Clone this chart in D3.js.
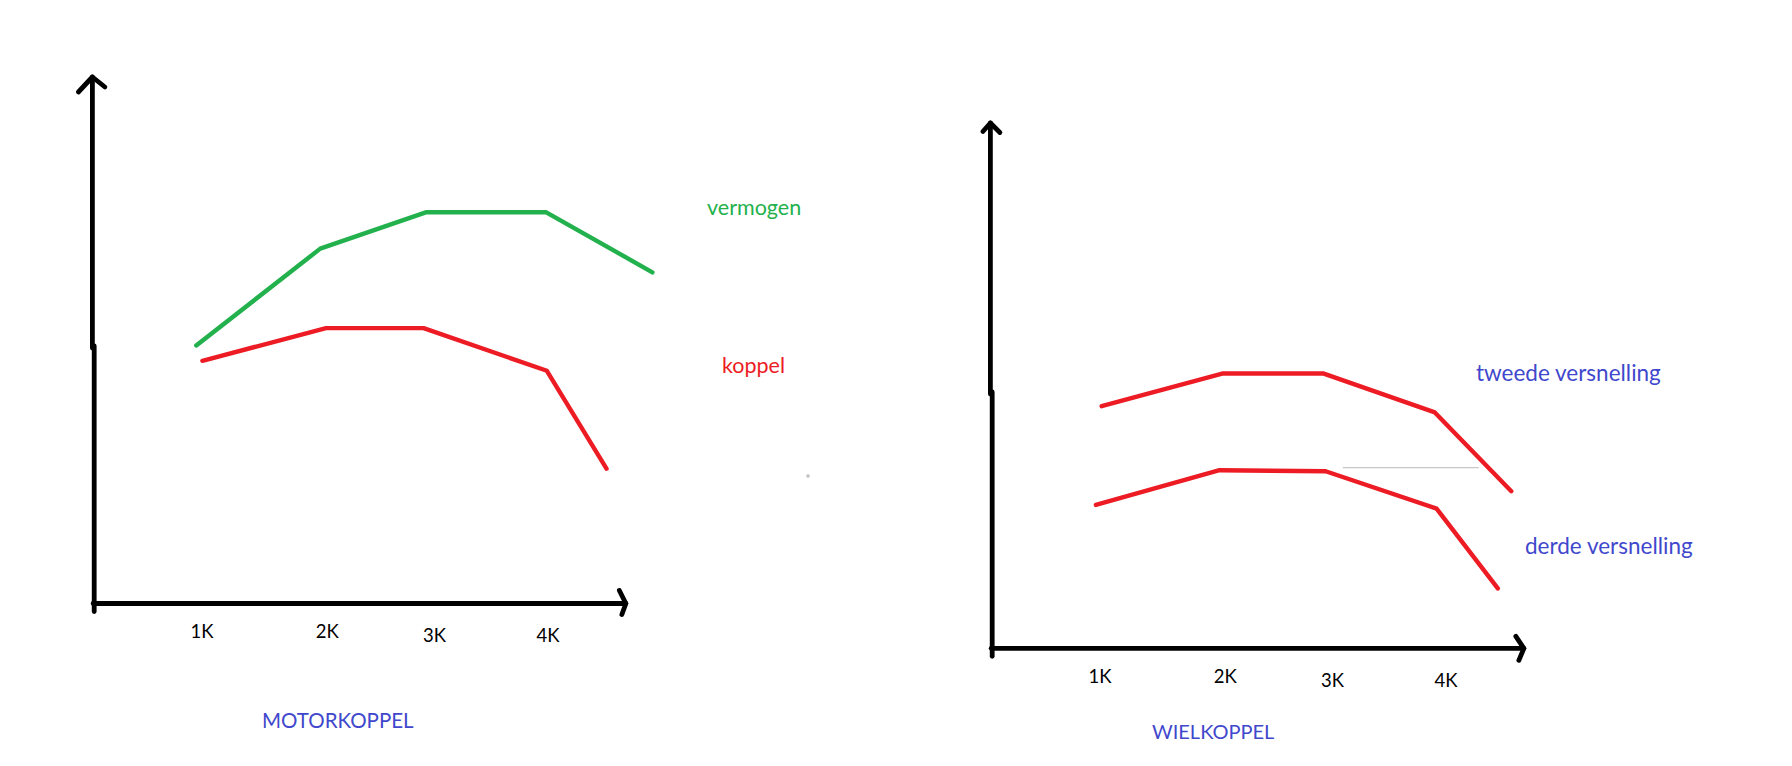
<!DOCTYPE html>
<html>
<head>
<meta charset="utf-8">
<script src="https://cdn.jsdelivr.net/npm/d3@7"></script>
<style>
  html, body { margin: 0; padding: 0; background: #fff; }
  svg { display: block; }
  text { font-family: Lato, "Open Sans", sans-serif; }
</style>
</head>
<body>
<svg id="chart" width="1792" height="766"></svg>
<script>
// ---------------- DATA ----------------
const rpmTicks   = [1000, 2085, 3015, 4000];
const tickLabels = ["1K", "2K", "3K", "4K"];

// Left chart: MOTORKOPPEL
const motorVermogenRpm = [950, 2025, 2940, 3985, 4905];
const motorVermogen    = [49.0, 67.4, 74.3, 74.3, 62.9];
const motorKoppelRpm   = [1003, 2075, 2921, 3990, 4507];
const motorKoppel      = [46.1, 52.3, 52.3, 44.2, 25.6];

// Right chart: WIELKOPPEL
const wielTweedeRpm = [1014, 2059, 2940, 3903, 4566];
const wielTweede    = [46.1, 52.3, 52.3, 44.9, 29.9];
const wielDerdeRpm  = [964, 2036, 2956, 3918, 4449];
const wielDerde     = [27.3, 33.9, 33.7, 26.6, 11.4];
const guideRpm      = [3105, 4283];
const guideValue    = 34.4;

const axisRpmStart = 65, axisRpmEnd = 4675;
const valueTop = 100;

// ---------------- LAYOUT ----------------
const svg = d3.select("#chart");
svg.append("rect").attr("width", 1792).attr("height", 766).attr("fill", "#fff");

const COLORS = { green: "#22b14c", red: "#ed1c24", blue: "#3f48cc", black: "#000" };

const panels = [
  {
    xRange: [86.7, 663.35], yRange: [603.5, 77],
    yAxisBelow: 8, upperShift: -1.8, splitY: 346,
    yArrow: [[-14, 15], [12.5, 10]], xArrow: [[-6.5, -13], [-4, 11]],
    tickBase: 638, tickDy: [0, 0, 4, 4],
    title: { text: "MOTORKOPPEL", x: 262, y: 727.5, size: 20.5 },
    series: [
      { rpm: motorVermogenRpm, val: motorVermogen, color: COLORS.green },
      { rpm: motorKoppelRpm, val: motorKoppel, color: COLORS.red }
    ],
    labels: [
      { text: "vermogen", x: 707, y: 215, color: COLORS.green, size: 21.5 },
      { text: "koppel", x: 722, y: 373, color: COLORS.red, size: 21.5 }
    ]
  },
  {
    xRange: [984.7, 1561.35], yRange: [648.3, 123],
    yAxisBelow: 8, upperShift: -1.8, splitY: 392,
    yArrow: [[-7.5, 8.5], [9.5, 9.5]], xArrow: [[-8, -12], [-5, 12]],
    tickBase: 683, tickDy: [0, 0, 4, 4],
    title: { text: "WIELKOPPEL", x: 1152, y: 739, size: 20 },
    series: [
      { rpm: wielTweedeRpm, val: wielTweede, color: COLORS.red },
      { rpm: wielDerdeRpm, val: wielDerde, color: COLORS.red }
    ],
    labels: [
      { text: "tweede versnelling", x: 1476, y: 380.5, color: COLORS.blue, size: 22.5 },
      { text: "derde versnelling", x: 1525, y: 554, color: COLORS.blue, size: 22.5 }
    ],
    guide: true
  }
];

panels.forEach(p => {
  const x = d3.scaleLinear().domain([0, 5000]).range(p.xRange);
  const y = d3.scaleLinear().domain([0, valueTop]).range(p.yRange);
  const g = svg.append("g");

  // faint guide line (right chart)
  if (p.guide) {
    g.append("line")
      .attr("x1", x(guideRpm[0])).attr("x2", x(guideRpm[1]))
      .attr("y1", y(guideValue)).attr("y2", y(guideValue))
      .attr("stroke", "#c8c8c8").attr("stroke-width", 1.2);
  }

  // axes
  const ax = x(axisRpmStart), ay = y(0);
  const axStyle = sel => sel.attr("fill", "none").attr("stroke", COLORS.black)
    .attr("stroke-width", 4.8).attr("stroke-linecap", "round").attr("stroke-linejoin", "round");
  // y axis (two hand-drawn strokes)
  g.append("path").call(axStyle)
    .attr("d", `M${ax},${ay + p.yAxisBelow} L${ax},${p.splitY}`);
  const tipX = ax + p.upperShift, tipY = y(valueTop);
  g.append("path").call(axStyle)
    .attr("d", `M${tipX},${p.splitY + 2} L${tipX},${tipY}`);
  g.append("path").call(axStyle)
    .attr("d", `M${tipX + p.yArrow[0][0]},${tipY + p.yArrow[0][1]} L${tipX},${tipY} L${tipX + p.yArrow[1][0]},${tipY + p.yArrow[1][1]}`);
  // x axis
  const xe = x(axisRpmEnd);
  g.append("path").call(axStyle)
    .attr("d", `M${ax - 1},${ay} L${xe},${ay}`);
  g.append("path").call(axStyle)
    .attr("d", `M${xe + p.xArrow[0][0]},${ay + p.xArrow[0][1]} L${xe},${ay} L${xe + p.xArrow[1][0]},${ay + p.xArrow[1][1]}`);

  // tick labels
  g.selectAll("text.tick").data(rpmTicks).enter().append("text")
    .attr("class", "tick")
    .attr("x", d => x(d))
    .attr("y", (d, i) => p.tickBase + p.tickDy[i])
    .attr("text-anchor", "middle")
    .attr("font-size", 18.5)
    .attr("fill", "#000")
    .text((d, i) => tickLabels[i]);

  // series lines
  const line = d3.line().x(d => x(d[0])).y(d => y(d[1]));
  p.series.forEach(s => {
    g.append("path")
      .datum(d3.zip(s.rpm, s.val))
      .attr("d", line)
      .attr("fill", "none")
      .attr("stroke", s.color)
      .attr("stroke-width", 4.4)
      .attr("stroke-linecap", "round")
      .attr("stroke-linejoin", "round");
  });

  // labels
  p.labels.forEach(l => {
    g.append("text").attr("x", l.x).attr("y", l.y)
      .attr("font-size", l.size).attr("fill", l.color).text(l.text);
  });
  g.append("text").attr("x", p.title.x).attr("y", p.title.y)
    .attr("font-size", p.title.size).attr("fill", COLORS.blue).text(p.title.text);
});

// small stray dot in the middle
svg.append("rect").attr("x", 806.5).attr("y", 474.5).attr("width", 3).attr("height", 3).attr("fill", "#bdbdbd");
</script>
</body>
</html>
